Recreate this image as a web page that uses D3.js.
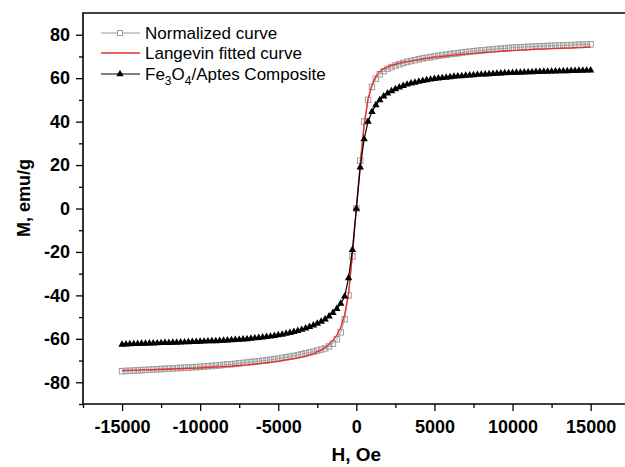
<!DOCTYPE html>
<html>
<head>
<meta charset="utf-8">
<script src="https://cdn.jsdelivr.net/npm/d3@7"></script>
<style>
  body { margin: 0; background: #fff; }
  svg { display: block; font-family: Arial, "Liberation Sans", Helvetica, sans-serif; }
  .major .tick text { font-weight: bold; font-size: 18px; fill: #000; }
</style>
</head>
<body>
<div id="chart"></div>
<script>
// field values, Oe
var field = [
  -15000,-14750,-14500,-14250,-14000,-13750,-13500,-13250,-13000,-12750,
  -12500,-12250,-12000,-11750,-11500,-11250,-11000,-10750,-10500,-10250,
  -10000,-9750,-9500,-9250,-9000,-8750,-8500,-8250,-8000,-7750,
  -7500,-7250,-7000,-6750,-6500,-6250,-6000,-5750,-5500,-5250,
  -5000,-4750,-4500,-4250,-4000,-3750,-3500,-3250,-3000,-2750,
  -2500,-2250,-2000,-1750,-1500,-1250,-1000,-750,-500,-250,
  0,
  250,500,750,1000,1250,1500,1750,2000,2250,2500,
  2750,3000,3250,3500,3750,4000,4250,4500,4750,5000,
  5250,5500,5750,6000,6250,6500,6750,7000,7250,7500,
  7750,8000,8250,8500,8750,9000,9250,9500,9750,10000,
  10250,10500,10750,11000,11250,11500,11750,12000,12250,12500,
  12750,13000,13250,13500,13750,14000,14250,14500,14750,15000
];

// normalized curve, emu/g
var normalized = [
  -74.9,-74.8,-74.7,-74.6,-74.5,-74.4,-74.3,-74.2,-74.1,-74.0,
  -73.9,-73.8,-73.7,-73.6,-73.5,-73.4,-73.3,-73.2,-73.1,-73.0,
  -72.9,-72.7,-72.6,-72.5,-72.3,-72.2,-72.0,-71.8,-71.7,-71.5,
  -71.3,-71.1,-70.9,-70.7,-70.5,-70.3,-70.1,-69.9,-69.6,-69.4,
  -69.1,-68.8,-68.5,-68.2,-67.9,-67.5,-67.1,-66.7,-66.3,-65.9,
  -65.4,-64.9,-64.4,-63.5,-62.2,-60.2,-57.0,-51.0,-40.0,-22.0,
  0,
  22,40,50,56,59.8,61.8,63.2,64.3,65.1,65.8,
  66.4,67,67.5,67.9,68.3,68.7,69.1,69.4,69.7,70,
  70.3,70.6,70.8,71.1,71.3,71.5,71.8,72,72.2,72.4,
  72.6,72.8,72.9,73.1,73.3,73.4,73.6,73.7,73.9,74,
  74.1,74.2,74.3,74.45,74.5,74.6,74.7,74.75,74.8,74.9,
  74.95,75.05,75.1,75.15,75.2,75.3,75.35,75.45,75.5,75.6
];

// langevin fit, emu/g
var langevin = [
  -74.6,-74.5,-74.5,-74.4,-74.4,-74.3,-74.3,-74.2,-74.2,-74.1,
  -74.1,-74.0,-74.0,-73.9,-73.8,-73.8,-73.7,-73.6,-73.6,-73.5,
  -73.4,-73.3,-73.2,-73.1,-73.0,-72.9,-72.8,-72.7,-72.6,-72.4,
  -72.3,-72.1,-72.0,-71.8,-71.6,-71.4,-71.2,-71.0,-70.8,-70.5,
  -70.3,-70.0,-69.7,-69.4,-69.1,-68.8,-68.4,-68.0,-67.4,-66.8,
  -66.0,-65.2,-64.0,-62.5,-60.8,-58.3,-54.8,-49.0,-39.0,-21.0,
  0,
  20,38,50.5,57,60.8,63,64.3,65.2,65.9,66.4,
  66.9,67.3,67.6,67.9,68.2,68.5,68.8,69.1,69.3,69.6,
  69.8,70,70.2,70.4,70.6,70.8,71,71.1,71.3,71.4,
  71.6,71.7,71.9,72,72.1,72.2,72.4,72.5,72.6,72.7,
  72.8,72.9,73,73.1,73.2,73.3,73.35,73.4,73.5,73.6,
  73.65,73.7,73.8,73.85,73.9,74,74.05,74.1,74.2,74.3
];

// Fe3O4/Aptes composite, emu/g
var composite = [
  -62.6,-62.5,-62.4,-62.35,-62.3,-62.2,-62.15,-62.1,-62.05,-62.0,
  -61.9,-61.85,-61.8,-61.75,-61.7,-61.6,-61.55,-61.5,-61.4,-61.35,
  -61.3,-61.2,-61.1,-61.05,-61.0,-60.9,-60.8,-60.7,-60.6,-60.5,
  -60.4,-60.2,-60.1,-59.9,-59.7,-59.5,-59.3,-59.1,-58.9,-58.6,
  -58.3,-58.0,-57.6,-57.2,-56.8,-56.3,-55.8,-55.2,-54.5,-53.8,
  -53.0,-52.1,-51.0,-49.6,-48.0,-46.2,-43.8,-40.5,-32.0,-19.0,
  0,
  19,32,40,44.5,47.6,49.9,51.6,53,54.1,55,
  55.8,56.5,57.1,57.6,58,58.4,58.8,59.1,59.4,59.7,
  59.9,60.1,60.3,60.5,60.7,60.9,61,61.2,61.3,61.4,
  61.6,61.7,61.8,61.9,62,62.1,62.2,62.3,62.4,62.5,
  62.55,62.6,62.7,62.75,62.8,62.9,62.95,63,63.05,63.1,
  63.15,63.2,63.25,63.3,63.35,63.4,63.45,63.5,63.55,63.6
];

var xTicks = [-15000, -10000, -5000, 0, 5000, 10000, 15000];
var yTicks = [-80, -60, -40, -20, 0, 20, 40, 60, 80];
var xMinorTicks = [-17500, -12500, -7500, -2500, 2500, 7500, 12500];
var yMinorTicks = [-90, -70, -50, -30, -10, 10, 30, 50, 70];

var width = 625, height = 467;
var plotLeft = 83, plotTop = 13, plotRight = 625, plotBottom = 404;

var svg = d3.select("#chart").append("svg")
  .attr("width", width)
  .attr("height", height);

var x = d3.scaleLinear().domain([-17500, 17200]).range([plotLeft, plotRight]);
var y = d3.scaleLinear().domain([-90, 90]).range([plotBottom, plotTop]);

var blank = function() { return ""; };

// minor ticks
svg.append("g")
  .attr("transform", "translate(0," + plotBottom + ")")
  .call(d3.axisBottom(x).tickValues(xMinorTicks).tickSize(4).tickFormat(blank))
  .call(function(g) { g.select(".domain").remove(); });
svg.append("g")
  .attr("transform", "translate(" + plotLeft + ",0)")
  .call(d3.axisLeft(y).tickValues(yMinorTicks).tickSize(4).tickFormat(blank))
  .call(function(g) { g.select(".domain").remove(); });

// major ticks
var fmt = function(d) { return d < 0 ? "-" + Math.abs(d) : String(d); };

svg.append("g")
  .attr("class", "major")
  .attr("transform", "translate(0," + plotBottom + ")")
  .call(d3.axisBottom(x).tickValues(xTicks).tickSize(7).tickPadding(9).tickFormat(fmt))
  .call(function(g) { g.select(".domain").remove(); });

svg.append("g")
  .attr("class", "major")
  .attr("transform", "translate(" + plotLeft + ",0)")
  .call(d3.axisLeft(y).tickValues(yTicks).tickSize(7).tickPadding(6).tickFormat(fmt))
  .call(function(g) { g.select(".domain").remove(); });

svg.selectAll(".tick line").attr("stroke", "#000").attr("stroke-width", 1.3);

// frame: top, left, bottom
svg.append("path")
  .attr("d", "M" + plotRight + "," + plotTop + "H" + plotLeft + "V" + plotBottom + "H" + plotRight)
  .attr("fill", "none")
  .attr("stroke", "#000")
  .attr("stroke-width", 1.6);

var rows = field.map(function(h, i) {
  return { h: h, n: normalized[i], l: langevin[i], c: composite[i] };
});

var line = function(key) {
  return d3.line().x(function(d) { return x(d.h); }).y(function(d) { return y(d[key]); });
};

// normalized curve
svg.append("path")
  .datum(rows)
  .attr("d", line("n"))
  .attr("fill", "none")
  .attr("stroke", "#9a9a9a")
  .attr("stroke-width", 1);

svg.append("g").selectAll("rect")
  .data(rows)
  .enter().append("rect")
  .attr("x", function(d) { return x(d.h) - 2.75; })
  .attr("y", function(d) { return y(d.n) - 2.75; })
  .attr("width", 5.5)
  .attr("height", 5.5)
  .attr("fill", "none")
  .attr("stroke", "#9d9d9d")
  .attr("stroke-width", 1);

// langevin fit
svg.append("path")
  .datum(rows)
  .attr("d", line("l"))
  .attr("fill", "none")
  .attr("stroke", "#e8312a")
  .attr("stroke-width", 1.4);

// composite
svg.append("path")
  .datum(rows)
  .attr("d", line("c"))
  .attr("fill", "none")
  .attr("stroke", "#000")
  .attr("stroke-width", 1.2);

var tri = d3.symbol().type(d3.symbolTriangle).size(24);
svg.append("g").selectAll("path")
  .data(rows)
  .enter().append("path")
  .attr("d", tri)
  .attr("transform", function(d) { return "translate(" + x(d.h) + "," + y(d.c) + ")"; })
  .attr("fill", "#000");

// legend
var legend = svg.append("g").attr("font-size", 17);
var ly = [33, 53, 74];

legend.append("line").attr("x1", 101).attr("x2", 140).attr("y1", ly[0]).attr("y2", ly[0])
  .attr("stroke", "#9a9a9a").attr("stroke-width", 1);
legend.append("rect").attr("x", 117.5).attr("y", ly[0] - 2.5).attr("width", 5).attr("height", 5)
  .attr("fill", "#fff").attr("stroke", "#999");
legend.append("text").attr("x", 145).attr("y", ly[0] + 6).text("Normalized curve");

legend.append("line").attr("x1", 101).attr("x2", 140).attr("y1", ly[1]).attr("y2", ly[1])
  .attr("stroke", "#e8312a").attr("stroke-width", 1.4);
legend.append("text").attr("x", 145).attr("y", ly[1] + 6).text("Langevin fitted curve");

legend.append("line").attr("x1", 101).attr("x2", 140).attr("y1", ly[2]).attr("y2", ly[2])
  .attr("stroke", "#000").attr("stroke-width", 1.2);
legend.append("path").attr("d", tri).attr("transform", "translate(120," + ly[2] + ")");
var t3 = legend.append("text").attr("x", 145).attr("y", ly[2] + 6);
t3.append("tspan").text("Fe");
t3.append("tspan").attr("font-size", 12).attr("dy", 5).text("3");
t3.append("tspan").attr("dy", -5).text("O");
t3.append("tspan").attr("font-size", 12).attr("dy", 5).text("4");
t3.append("tspan").attr("dy", -5).text("/Aptes Composite");

// axis titles
svg.append("text")
  .attr("x", x(0))
  .attr("y", 461)
  .attr("text-anchor", "middle")
  .attr("font-weight", "bold")
  .attr("font-size", 19)
  .text("H, Oe");

svg.append("text")
  .attr("transform", "translate(30,198) rotate(-90)")
  .attr("text-anchor", "middle")
  .attr("font-weight", "bold")
  .attr("font-size", 18)
  .text("M, emu/g");
</script>
</body>
</html>
